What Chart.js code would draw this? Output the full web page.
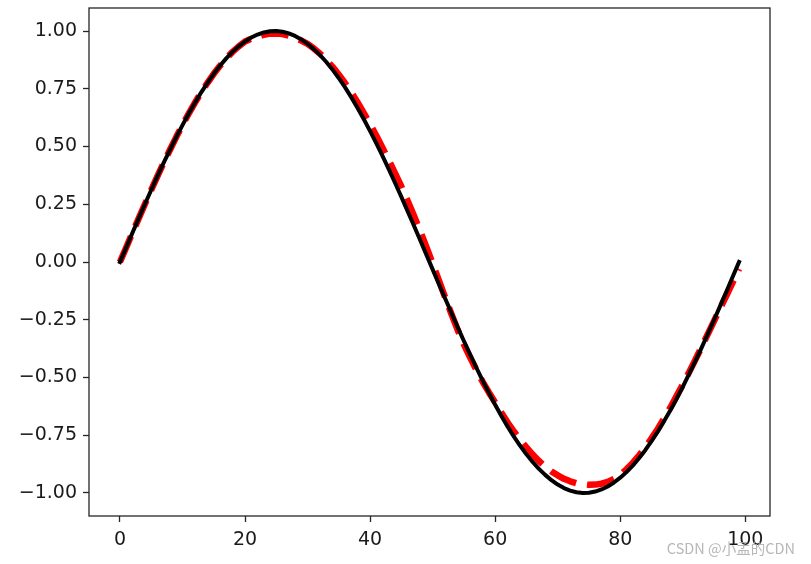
<!DOCTYPE html>
<html>
<head>
<meta charset="utf-8">
<script src="https://cdn.jsdelivr.net/npm/chart.js@4.4.1/dist/chart.umd.min.js"></script>
<style>
  html, body { margin: 0; padding: 0; background: #fff; }
  #wrap { width: 811px; height: 564px; position: relative; }
</style>
</head>
<body>
<div id="wrap"><canvas id="chart" width="811" height="564"></canvas></div>
<script>
// ================= DATA =================
const xIdx = [
  0, 1, 2, 3, 4, 5, 6, 7, 8, 9, 10, 11, 12, 13, 14, 15, 16, 17, 18, 19,
  20, 21, 22, 23, 24, 25, 26, 27, 28, 29, 30, 31, 32, 33, 34, 35, 36, 37, 38, 39,
  40, 41, 42, 43, 44, 45, 46, 47, 48, 49, 50, 51, 52, 53, 54, 55, 56, 57, 58, 59,
  60, 61, 62, 63, 64, 65, 66, 67, 68, 69, 70, 71, 72, 73, 74, 75, 76, 77, 78, 79,
  80, 81, 82, 83, 84, 85, 86, 87, 88, 89, 90, 91, 92, 93, 94, 95, 96, 97, 98, 99
];

// black solid line
const ySin = [
  0.000, 0.063, 0.127, 0.189, 0.251, 0.312, 0.372, 0.430, 0.486, 0.541,
  0.593, 0.643, 0.690, 0.735, 0.776, 0.815, 0.850, 0.882, 0.910, 0.934,
  0.955, 0.972, 0.985, 0.994, 0.999, 1.000, 0.997, 0.990, 0.979, 0.964,
  0.945, 0.922, 0.896, 0.866, 0.833, 0.796, 0.756, 0.713, 0.667, 0.618,
  0.567, 0.514, 0.458, 0.401, 0.342, 0.282, 0.220, 0.158, 0.095, 0.032,
  -0.032, -0.095, -0.158, -0.220, -0.282, -0.342, -0.401, -0.458, -0.514, -0.567,
  -0.618, -0.667, -0.713, -0.756, -0.796, -0.833, -0.866, -0.896, -0.922, -0.945,
  -0.964, -0.979, -0.990, -0.997, -1.000, -0.999, -0.994, -0.985, -0.972, -0.955,
  -0.934, -0.910, -0.882, -0.850, -0.815, -0.776, -0.735, -0.690, -0.643, -0.593,
  -0.541, -0.486, -0.430, -0.372, -0.312, -0.251, -0.189, -0.127, -0.063, 0.000
];

// red dashed line
const yPred = [
  0.000, 0.063, 0.127, 0.189, 0.251, 0.312, 0.372, 0.430, 0.486, 0.541,
  0.593, 0.643, 0.690, 0.735, 0.776, 0.815, 0.850, 0.882, 0.910, 0.934,
  0.955, 0.967, 0.975, 0.984, 0.989, 0.990, 0.987, 0.980, 0.971, 0.959,
  0.945, 0.925, 0.902, 0.875, 0.845, 0.811, 0.774, 0.734, 0.691, 0.645,
  0.597, 0.547, 0.494, 0.440, 0.384, 0.327, 0.265, 0.201, 0.135, 0.065,
  -0.007, -0.080, -0.153, -0.225, -0.294, -0.357, -0.414, -0.467, -0.519, -0.565,
  -0.608, -0.653, -0.695, -0.734, -0.770, -0.803, -0.834, -0.862, -0.886, -0.907,
  -0.924, -0.939, -0.950, -0.958, -0.962, -0.965, -0.964, -0.960, -0.952, -0.939,
  -0.922, -0.898, -0.870, -0.838, -0.803, -0.764, -0.723, -0.678, -0.631, -0.581,
  -0.531, -0.478, -0.424, -0.369, -0.312, -0.256, -0.199, -0.144, -0.087, -0.030
];

const xTicks = [0, 20, 40, 60, 80, 100];
const yTicks = [-1.00, -0.75, -0.50, -0.25, 0.00, 0.25, 0.50, 0.75, 1.00];
const watermark = "CSDN @小孟的CDN";

// ================= PLUGINS =================
const framePlugin = {
  id: "frame",
  afterDatasetsDraw(chart) {
    const { ctx, chartArea: a } = chart;
    ctx.save();
    ctx.strokeStyle = "#262626";
    ctx.lineWidth = 1.3;
    ctx.strokeRect(a.left, a.top, a.right - a.left, a.bottom - a.top);
    ctx.restore();
  }
};

const watermarkPlugin = {
  id: "watermark",
  afterDraw(chart) {
    const ctx = chart.ctx;
    ctx.save();
    ctx.font = "14.5px 'Noto Sans CJK SC', 'Noto Sans', sans-serif";
    ctx.fillStyle = "rgba(170,170,170,0.85)";
    ctx.textAlign = "right";
    ctx.textBaseline = "alphabetic";
    ctx.fillText(watermark, 795, 554);
    ctx.restore();
  }
};

// ================= CHART =================
const toPoints = ys => xIdx.map((x, i) => ({ x, y: ys[i] }));
const font = { family: "'DejaVu Sans', sans-serif", size: 19 };

new Chart(document.getElementById("chart").getContext("2d"), {
  type: "line",
  data: {
    datasets: [
      {
        data: toPoints(ySin),
        borderColor: "#000",
        borderWidth: 4,
        borderCapStyle: "square",
        borderJoinStyle: "round",
        pointRadius: 0,
        tension: 0,
        fill: false
      },
      {
        data: toPoints(yPred),
        borderColor: "#ff0000",
        borderWidth: 6.5,
        borderDash: [28, 11],
        borderCapStyle: "butt",
        borderJoinStyle: "round",
        pointRadius: 0,
        tension: 0,
        fill: false
      }
    ]
  },
  plugins: [framePlugin, watermarkPlugin],
  options: {
    responsive: false,
    animation: false,
    devicePixelRatio: 1,
    layout: { padding: { left: 0, top: 8, right: 41, bottom: 0 } },
    plugins: {
      legend: { display: false },
      tooltip: { enabled: false }
    },
    scales: {
      x: {
        type: "linear",
        min: -4.95,
        max: 103.95,
        afterBuildTicks: axis => { axis.ticks = xTicks.map(v => ({ value: v })); },
        afterFit: axis => { axis.height = 48; axis.paddingLeft = 0; axis.paddingRight = 0; },
        grid: { drawOnChartArea: false, drawTicks: true, tickLength: 6, tickColor: "#262626", tickWidth: 1.3 },
        border: { display: false },
        ticks: {
          color: "#1a1a1a",
          font,
          padding: 7,
          maxRotation: 0,
          autoSkip: false,
          callback: v => String(v)
        }
      },
      y: {
        type: "linear",
        min: -1.1,
        max: 1.1,
        afterBuildTicks: axis => { axis.ticks = yTicks.map(v => ({ value: v })); },
        afterFit: axis => { axis.width = 89; axis.paddingTop = 0; axis.paddingBottom = 0; },
        grid: { drawOnChartArea: false, drawTicks: true, tickLength: 6, tickColor: "#262626", tickWidth: 1.3 },
        border: { display: false },
        ticks: {
          color: "#1a1a1a",
          font,
          padding: 6,
          autoSkip: false,
          callback: v => (v < 0 ? "\u2212" : "") + Math.abs(v).toFixed(2)
        }
      }
    }
  }
});
</script>
</body>
</html>
